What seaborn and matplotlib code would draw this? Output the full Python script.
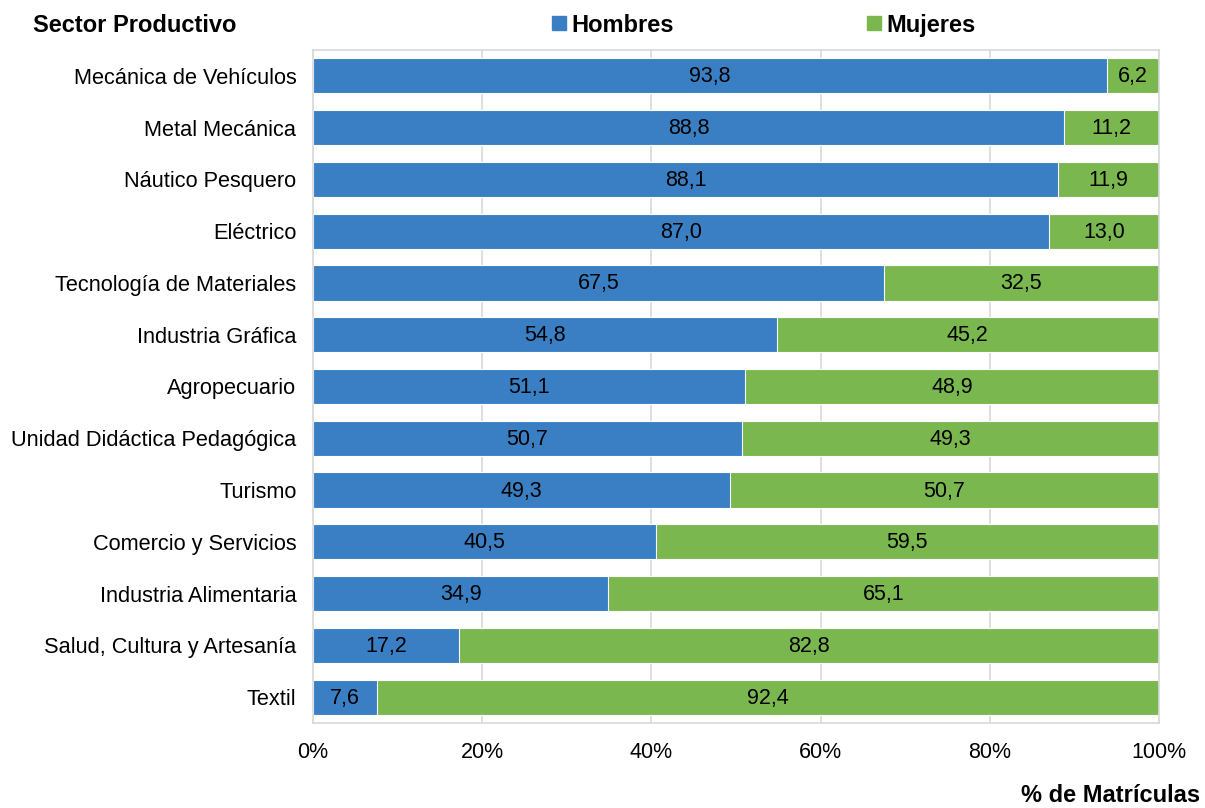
import pandas as pd
import matplotlib
matplotlib.use("Agg")
import matplotlib.pyplot as plt
from matplotlib.lines import Line2D
import seaborn as sns

# Datos (% de matrículas por sexo)
sectores = [
    "Mecánica de Vehículos", "Metal Mecánica", "Náutico Pesquero", "Eléctrico",
    "Tecnología de Materiales", "Industria Gráfica", "Agropecuario",
    "Unidad Didáctica Pedagógica", "Turismo", "Comercio y Servicios",
    "Industria Alimentaria", "Salud, Cultura y Artesanía", "Textil",
]
hombres = [93.8, 88.8, 88.1, 87.0, 67.5, 54.8, 51.1, 50.7, 49.3, 40.5, 34.9, 17.2, 7.6]
mujeres = [6.2, 11.2, 11.9, 13.0, 32.5, 45.2, 48.9, 49.3, 50.7, 59.5, 65.1, 82.8, 92.4]
ticks = [0, 20, 40, 60, 80, 100]

azul = "#3a7fc3"
verde = "#7ab84f"
gris = "#d9d9d9"

df = pd.DataFrame({"sector": sectores, "hombres": hombres, "mujeres": mujeres})
df["total"] = df["hombres"] + df["mujeres"]

sns.set_style("white")
plt.rcParams["font.family"] = ["Liberation Sans", "DejaVu Sans"]
plt.rcParams["text.color"] = "black"
plt.rcParams["xtick.color"] = "black"
plt.rcParams["ytick.color"] = "black"

fig = plt.figure(figsize=(12.05, 8.08), dpi=100)
ax = fig.add_axes([0.2598, 0.1052, 0.702, 0.833])

# barra completa verde, luego la parte de hombres en azul encima
sns.barplot(data=df, x="total", y="sector", order=sectores, color=verde,
            saturation=1, width=0.68, edgecolor="white", linewidth=0.8,
            ax=ax, orient="h")
sns.barplot(data=df, x="hombres", y="sector", order=sectores, color=azul,
            saturation=1, width=0.68, edgecolor="white", linewidth=0.8,
            ax=ax, orient="h")

# etiquetas de valores
for i, (h, m) in enumerate(zip(hombres, mujeres)):
    ax.text(h / 2, i + 0.02, f"{h:.1f}".replace(".", ","), ha="center",
            va="center", fontsize=15.5, color="black")
    ax.text(h + m / 2, i + 0.02, f"{m:.1f}".replace(".", ","), ha="center",
            va="center", fontsize=15.5, color="black")

ax.set_xlim(0, 100)
ax.set_ylim(len(sectores) - 0.5, -0.5)
ax.set_xticks(ticks)
ax.set_xticklabels([f"{t}%" for t in ticks], fontsize=15.5)
ax.tick_params(axis="y", labelsize=15.7, length=0, pad=12)
ax.tick_params(axis="x", length=0, pad=14)
ax.set_xlabel("")
ax.set_ylabel("")
ax.grid(axis="x", color=gris, linewidth=1.2)
ax.set_axisbelow(True)
for s in ax.spines.values():
    s.set_visible(True)
    s.set_color(gris)
    s.set_linewidth(1.2)

fig.text(0.027, 0.969, "Sector Productivo", fontsize=17, fontweight="bold",
         ha="left", va="center")
fig.text(0.996, 0.016, "% de Matrículas", fontsize=17, fontweight="bold",
         ha="right", va="center")

handles = [
    Line2D([], [], marker="s", linestyle="", markersize=10, color=azul),
    Line2D([], [], marker="s", linestyle="", markersize=10, color=verde),
]
fig.legend(handles, ["Hombres", "Mujeres"], loc="center", ncol=2,
           bbox_to_anchor=(0.634, 0.969), frameon=False,
           prop={"size": 17, "weight": "bold"}, handlelength=0.6,
           handletextpad=0.2, columnspacing=8.2)

fig.savefig("out.png", dpi=100)
